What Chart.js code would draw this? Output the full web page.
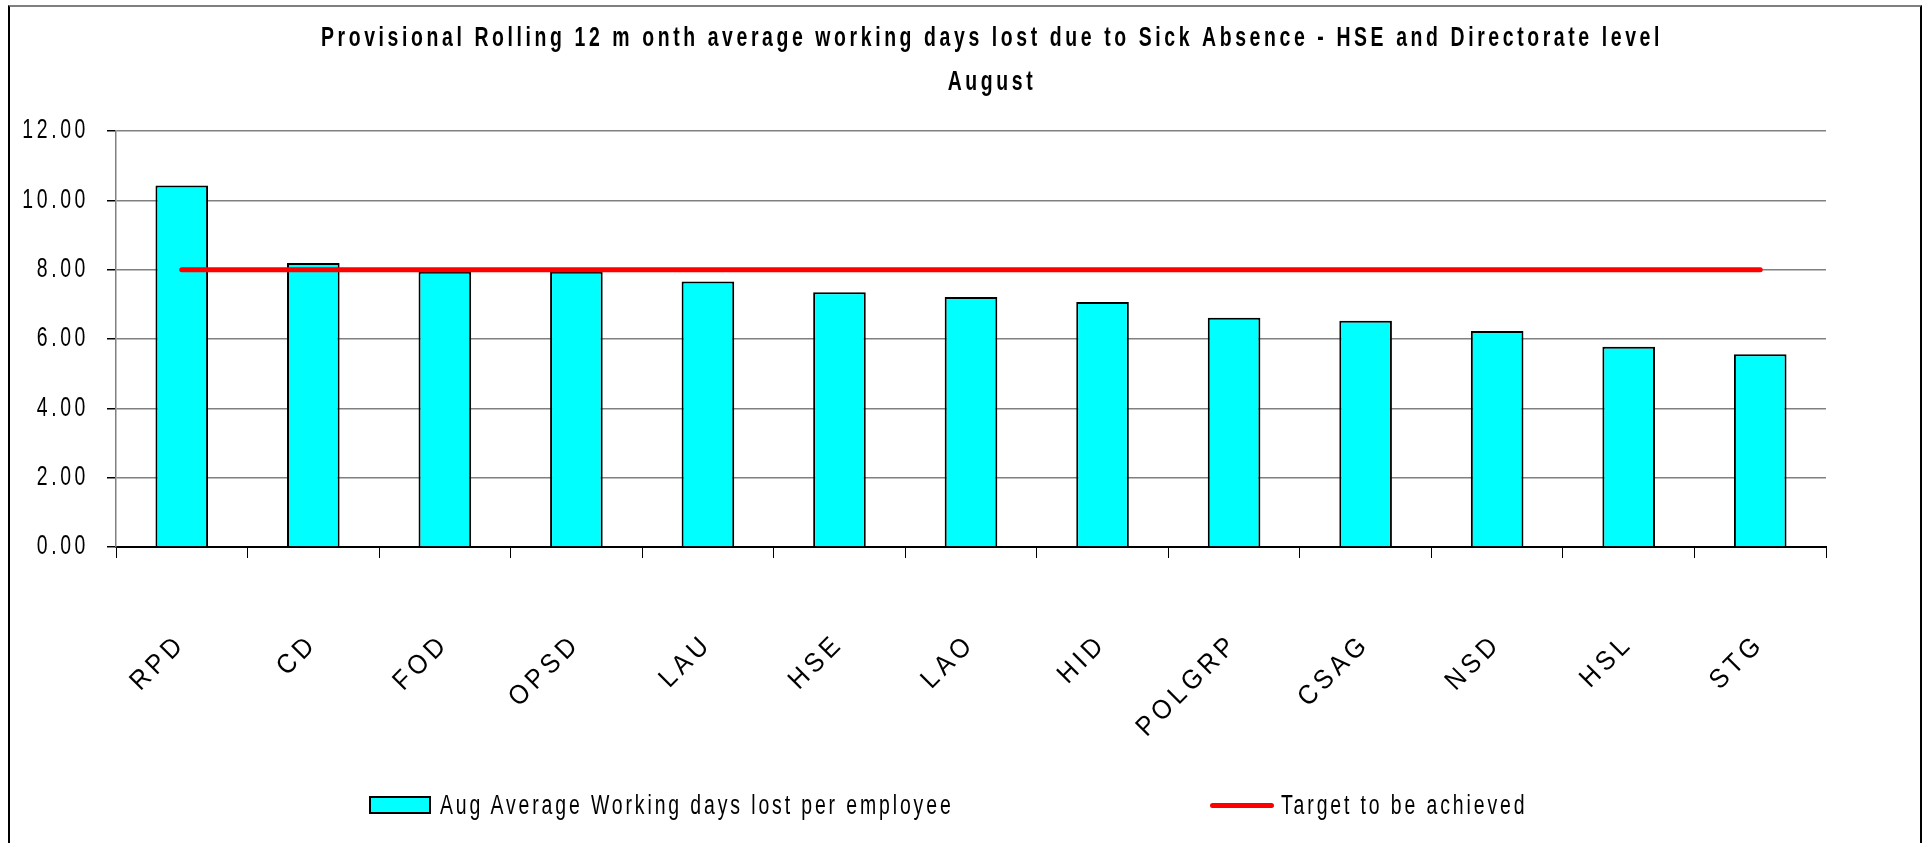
<!DOCTYPE html>
<html>
<head>
<meta charset="utf-8">
<script src="https://cdn.jsdelivr.net/npm/chart.js@4.4.0/dist/chart.umd.min.js"></script>
<style>
  html, body { margin: 0; padding: 0; background: #fff; }
  #wrap { position: relative; width: 1922px; height: 843px; overflow: hidden; }
  #frame { position: absolute; left: 8px; top: 5px; width: 1910px; height: 860px;
           border: 2px solid #000; border-top-color: #7f7f7f; pointer-events: none; }
  .item { position: absolute; top: 791px; height: 28px; display: flex; align-items: center; white-space: nowrap; }
  .box { flex: none; width: 58px; height: 14px; border: 2px solid #000; margin-right: 9px; }
  .ln { flex: none; width: 64px; height: 5px; border-radius: 3px; margin-right: 7px; }
  .txt { display: inline-block; font-family: 'Liberation Sans', Arial, sans-serif; font-size: 27px;
         letter-spacing: 4px; color: #000; transform: scaleX(0.72); transform-origin: left center; }
</style>
</head>
<body>
<div id="wrap">
  <canvas id="barChart"></canvas>
  <div id="frame"></div>
</div>
<script>
const categories = ['RPD', 'CD', 'FOD', 'OPSD', 'LAU', 'HSE', 'LAO', 'HID', 'POLGRP', 'CSAG', 'NSD', 'HSL', 'STG'];
const daysLost = [10.43, 8.19, 7.94, 7.94, 7.66, 7.35, 7.21, 7.07, 6.61, 6.53, 6.23, 5.78, 5.56];
const target = [8, 8, 8, 8, 8, 8, 8, 8, 8, 8, 8, 8, 8];
const yTicks = [0, 2, 4, 6, 8, 10, 12];

const FONT = "'Liberation Sans', Arial, sans-serif";
const SQUEEZE = 0.72;      // the original export has tall, narrow lettering
const SQUEEZE_ROT = 0.92;  // rotated category labels are squeezed less
const legendLeft = [369, 1210];

const ctx = document.getElementById('barChart').getContext('2d');

// narrow every canvas string around its own anchor point
const nativeFill = ctx.fillText.bind(ctx);
const nativeMeasure = ctx.measureText.bind(ctx);
ctx.fillText = function (text, x, y) {
    const m = this.getTransform();
    const s = Math.abs(m.b) > 1e-6 ? SQUEEZE_ROT : SQUEEZE;
    this.save();
    this.translate(x, y);
    this.scale(s, 1);
    nativeFill(text, 0, 0);
    this.restore();
};
ctx.measureText = function (text) {
    const m = nativeMeasure(text);
    return {
        width: m.width * SQUEEZE,
        actualBoundingBoxAscent: m.actualBoundingBoxAscent,
        actualBoundingBoxDescent: m.actualBoundingBoxDescent,
        actualBoundingBoxLeft: m.actualBoundingBoxLeft * SQUEEZE,
        actualBoundingBoxRight: m.actualBoundingBoxRight * SQUEEZE
    };
};

const spacing = {
    id: 'spacing',
    beforeLayout(chart) { chart.ctx.letterSpacing = '5px'; },
    beforeDraw(chart) { chart.ctx.letterSpacing = '5px'; }
};

const myChart = new Chart(ctx, {
    type: 'bar',

    data: {
        labels: categories,
        datasets: [{
            type: 'bar',
            label: 'Aug Average Working days lost per employee',
            data: daysLost,
            backgroundColor: '#00FFFF',
            borderColor: '#000000',
            borderWidth: 2,
            barPercentage: 0.4,
            categoryPercentage: 1,
            order: 1
        }, {
            type: 'line',
            label: 'Target to be achieved',
            data: target,
            borderColor: '#FF0000',
            backgroundColor: '#FF0000',
            borderWidth: 5,
            borderCapStyle: 'round',
            pointRadius: 0,
            fill: false,
            order: 0
        }]
    },

    options: {
        responsive: true,
        maintainAspectRatio: false,
        animation: false,
        // title sits a little right of the canvas centre in the original,
        // so the title box is allowed to run past the right edge
        layout: { padding: { left: 0, right: -62, top: 0, bottom: 0 } },
        plugins: {
            legend: { display: false },
            tooltip: { enabled: false },
            title: {
                display: true,
                text: ['Provisional Rolling 12 m onth average working days lost due to Sick Absence - HSE and Directorate level', 'August'],
                color: '#000',
                font: { family: FONT, size: 27, weight: 'bold', lineHeight: 44 / 27 },
                padding: { top: 17, bottom: 26 }
            }
        },
        scales: {
            x: {
                grid: { display: true, drawOnChartArea: false, color: '#000', tickLength: 11, offset: true },
                border: { display: true, color: '#000', width: 2 },
                ticks: {
                    color: '#000',
                    font: { family: FONT, size: 27 },
                    minRotation: 45,
                    maxRotation: 45,
                    padding: 70
                },
                afterFit(scale) { scale.height = 296; }
            },
            y: {
                min: 0,
                max: 12,
                afterBuildTicks(scale) { scale.ticks = yTicks.map(v => ({ value: v })); },
                grid: { color: '#808080', lineWidth: 1.5, tickLength: 9, tickColor: '#000' },
                border: { display: true, color: '#808080', width: 1.5 },
                ticks: {
                    color: '#000',
                    font: { family: FONT, size: 27 },
                    padding: 18,
                    callback: v => v.toFixed(2)
                },
                afterFit(scale) { scale.width = 116; }
            },
            // empty right margin of the plot
            yR: {
                position: 'right',
                grid: { display: false },
                border: { display: false },
                ticks: { display: false },
                afterFit(scale) { scale.width = 158; }
            }
        }
    },
    plugins: [spacing]
});

// legend as html, built from the chart's datasets
const wrap = document.getElementById('wrap');
myChart.data.datasets.forEach((ds, i) => {
    const item = document.createElement('div');
    item.className = 'item';
    item.style.left = legendLeft[i] + 'px';
    const key = document.createElement('span');
    if (ds.type === 'bar') {
        key.className = 'box';
        key.style.background = ds.backgroundColor;
    } else {
        key.className = 'ln';
        key.style.background = ds.borderColor;
    }
    const txt = document.createElement('span');
    txt.className = 'txt';
    txt.textContent = ds.label;
    item.appendChild(key);
    item.appendChild(txt);
    wrap.appendChild(item);
});
</script>
</body>
</html>
